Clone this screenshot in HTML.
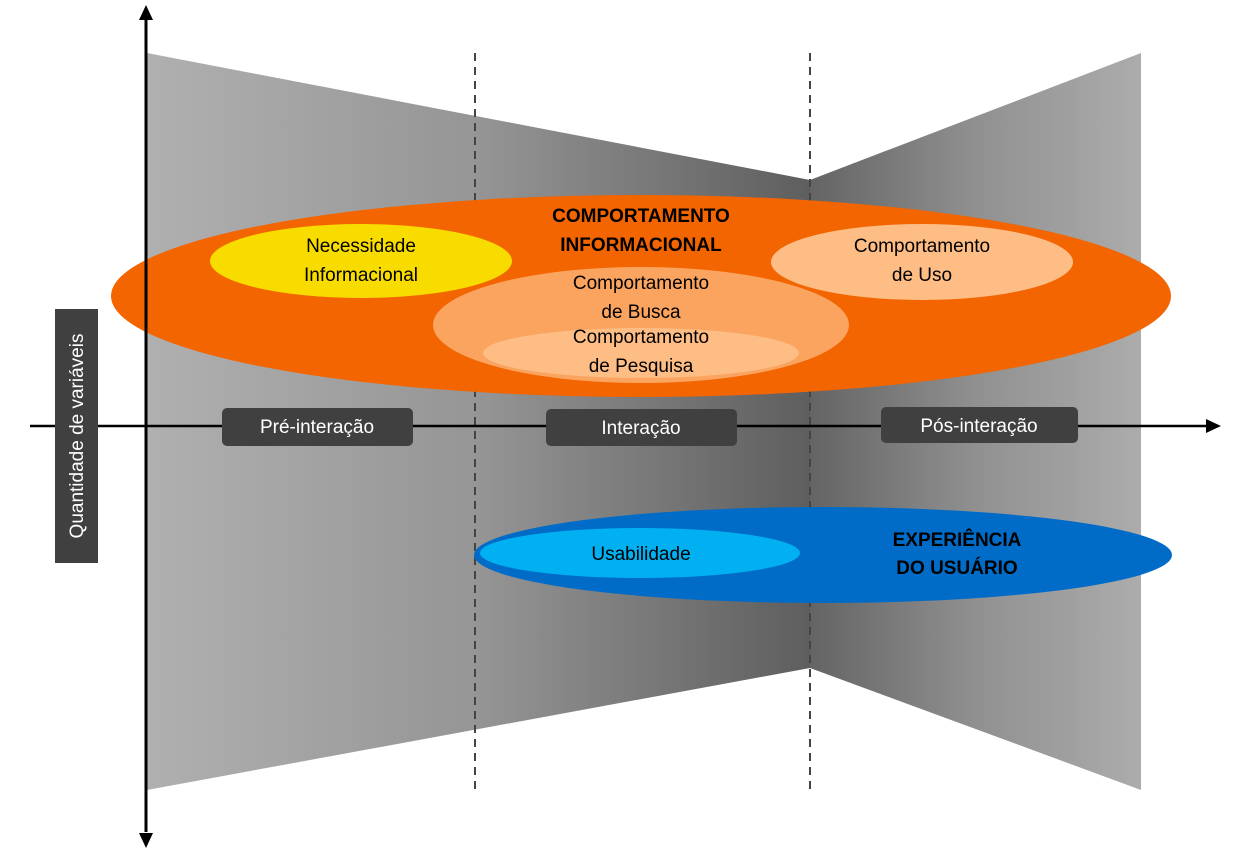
<!DOCTYPE html>
<html><head><meta charset="utf-8"><style>
body{margin:0;background:#fff}
svg{display:block}
text{font-family:"Liberation Sans",sans-serif}
</style></head><body>
<svg width="1243" height="853" viewBox="0 0 1243 853" xmlns="http://www.w3.org/2000/svg">
<defs>
<linearGradient id="gl" x1="147" y1="0" x2="810" y2="0" gradientUnits="userSpaceOnUse">
<stop offset="0" stop-color="#b0b0b0"/><stop offset="0.5" stop-color="#959595"/><stop offset="1" stop-color="#5e5e5e"/></linearGradient>
<linearGradient id="gr" x1="810" y1="0" x2="1141" y2="0" gradientUnits="userSpaceOnUse">
<stop offset="0" stop-color="#646464"/><stop offset="0.5" stop-color="#909090"/><stop offset="1" stop-color="#acacac"/></linearGradient>
</defs>
<polygon points="147,53 810,180 810,668 147,790" fill="url(#gl)"/>
<polygon points="810,180 1141,53 1141,790 810,668" fill="url(#gr)"/>
<line x1="475" y1="53" x2="475" y2="790" stroke="#444" stroke-width="2" stroke-dasharray="8,6"/>
<line x1="810" y1="53" x2="810" y2="790" stroke="#444" stroke-width="2" stroke-dasharray="8,6"/>
<ellipse cx="641" cy="296" rx="530" ry="101" fill="#f26500"/>
<ellipse cx="361" cy="261" rx="151" ry="37" fill="#f8dc00"/>
<ellipse cx="922" cy="262" rx="151" ry="38" fill="#fdbd85"/>
<ellipse cx="641" cy="325" rx="208" ry="58" fill="#faa460"/>
<ellipse cx="641" cy="353" rx="158" ry="25" fill="#fdbd85"/>
<ellipse cx="823" cy="555" rx="349" ry="48" fill="#006cc8"/>
<ellipse cx="640" cy="553" rx="160" ry="25" fill="#00b0f0"/>
<line x1="146" y1="18" x2="146" y2="832" stroke="#000" stroke-width="3"/>
<polygon points="146,5 139,20 153,20" fill="#000"/>
<polygon points="146,848 139,833 153,833" fill="#000"/>
<line x1="30" y1="426" x2="1208" y2="426" stroke="#000" stroke-width="2.5"/>
<polygon points="1221,426 1206,419 1206,433" fill="#000"/>
<g fill="#404040">
<rect x="222" y="408" width="191" height="38" rx="5"/>
<rect x="546" y="409" width="191" height="37" rx="5"/>
<rect x="881" y="407" width="197" height="36" rx="5"/>
<rect x="55" y="309" width="43" height="254"/>
</g>
<g fill="#fff" font-size="19" text-anchor="middle">
<text x="317" y="433">Pré-interação</text>
<text x="641" y="434">Interação</text>
<text x="979" y="432">Pós-interação</text>
<text transform="translate(83,436) rotate(-90)">Quantidade de variáveis</text>
</g>
<g fill="#000" font-size="19" text-anchor="middle">
<text x="361" y="252">Necessidade</text>
<text x="361" y="281">Informacional</text>
<text x="922" y="252">Comportamento</text>
<text x="922" y="281">de Uso</text>
<text x="641" y="289">Comportamento</text>
<text x="641" y="318">de Busca</text>
<text x="641" y="343">Comportamento</text>
<text x="641" y="372">de Pesquisa</text>
<text x="641" y="560">Usabilidade</text>
<g font-weight="bold" font-size="19">
<text x="641" y="222">COMPORTAMENTO</text>
<text x="641" y="251">INFORMACIONAL</text>
<text x="957" y="546">EXPERIÊNCIA</text>
<text x="957" y="574">DO USUÁRIO</text>
</g>
</g>
</svg>
</body></html>
